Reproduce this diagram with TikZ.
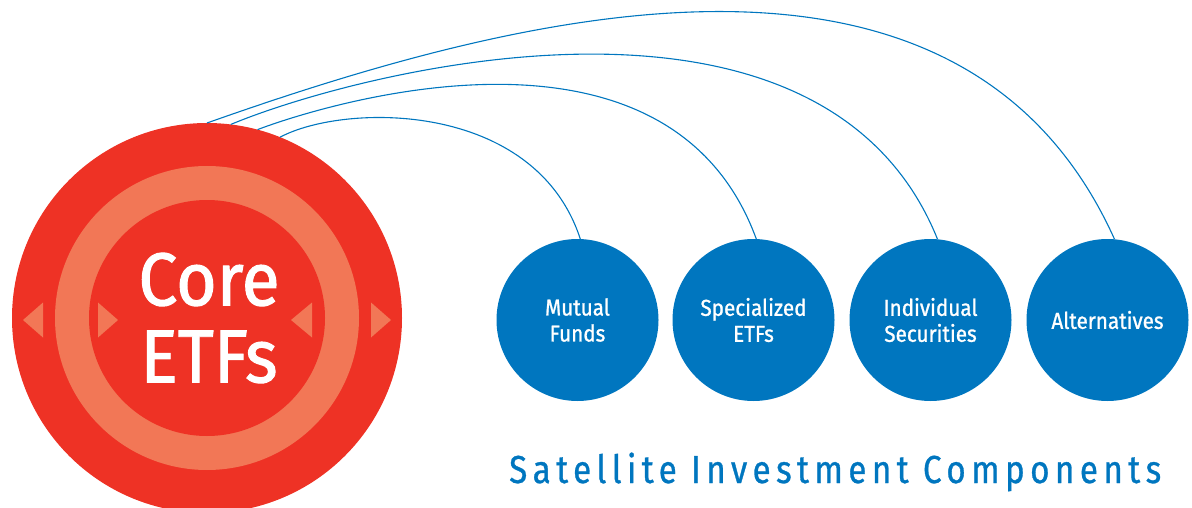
\documentclass[tikz,border=0pt]{standalone}
\usepackage{fontspec}
\newfontfamily\corefont[FakeStretch=0.93,FakeBold=1.3]{Fira Sans}
\newfontfamily\satnodefont[FakeStretch=0.9,FakeBold=1]{Fira Sans}
\newfontfamily\satfont[FakeStretch=0.85,LetterSpace=14,FakeBold=0.8]{Fira Sans}
\definecolor{corered}{RGB}{238,50,37}
\definecolor{coresalmon}{RGB}{242,119,86}
\definecolor{satblue}{RGB}{0,118,191}
\tikzset{
  corecircle/.style={circle,fill=corered,draw=none,inner sep=0pt,outer sep=0pt,minimum size=390pt},
  satcircle/.style={circle,fill=satblue,draw=none,inner sep=0pt,outer sep=0pt,minimum size=162pt,
    text=white,align=center,font={\satnodefont\fontsize{23}{26}\selectfont}},
  link/.style={draw=satblue,line width=1.1pt},
  marker/.style={fill=coresalmon,draw=none},
}
\begin{document}
\begin{tikzpicture}[x=1pt,y=-1pt]
\useasboundingbox (0,0) rectangle (1192,508);
% core circle
\node[corecircle] (core) at (207,318) {};
\fill[coresalmon] (207,318) circle (152);
\fill[corered] (207,318) circle (118);
\node[text=white,align=center,inner sep=0pt,font={\corefont\fontsize{75}{77}\selectfont}] (coretext) at (209,318) {Core\\ETFs};
% triangles
\fill[marker] (23,320) -- (43,302.5) -- (43,337.5) -- cycle;
\fill[marker] (118,320) -- (98,302.5) -- (98,337.5) -- cycle;
\fill[marker] (291,320) -- (312,302.5) -- (312,337.5) -- cycle;
\fill[marker] (391,320) -- (371,302.5) -- (371,337.5) -- cycle;
% satellites
\node[satcircle] (mf) at (577.5,320) {Mutual\\Funds};
\node[satcircle] (se) at (753.5,320) {Specialized\\ETFs};
\node[satcircle] (is) at (930.5,320) {Individual\\Securities};
\node[satcircle] (alt) at (1107.5,320) {Alternatives};
% connectors
\draw[link] (core.68) .. controls (344,103) and (535,100) .. (mf.88);
\draw[link] (core.75) .. controls (322,105) and (668,-3) .. (se.88);
\draw[link] (core.83) .. controls (359,71) and (822,-48) .. (is.85);
\draw[link] (core.90.6) .. controls (515,14) and (960,-104) .. (alt.85);
% caption
\node[text=satblue,anchor=base west,inner sep=0pt,font={\satfont\fontsize{39}{44}\selectfont}] (caption) at (509,483) {Satellite Investment Components};
\end{tikzpicture}
\end{document}
